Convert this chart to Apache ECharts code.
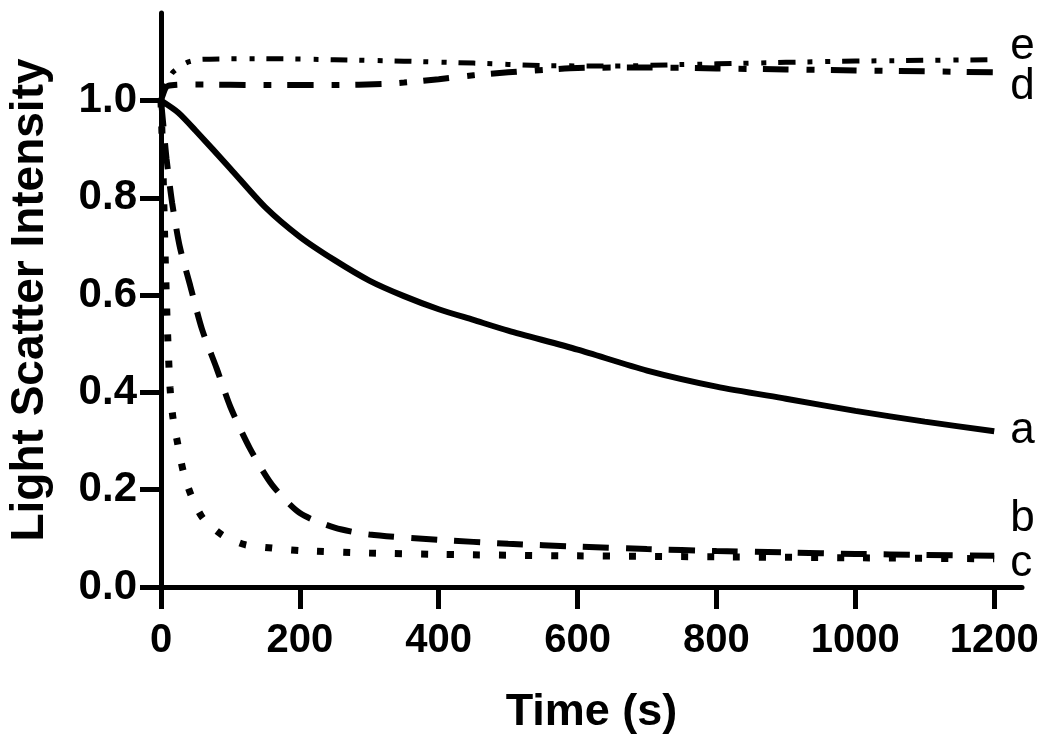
<!DOCTYPE html>
<html>
<head>
<meta charset="utf-8">
<script src="https://cdn.jsdelivr.net/npm/echarts@6/dist/echarts.min.js"></script>
<style>
  html, body { margin: 0; padding: 0; background: #fff; }
  #chart { width: 1050px; height: 750px; }
</style>
</head>
<body>
<div id="chart"></div>
<script>
// (time in s, light scatter intensity)
const timeA = [0, 25, 50, 100, 150, 200, 250, 300, 350, 400, 450, 500, 600, 700, 800, 900, 1000, 1100, 1200];
const valA  = [1.0, 0.975, 0.938, 0.86, 0.781, 0.72, 0.672, 0.63, 0.598, 0.571, 0.549, 0.527, 0.488, 0.445, 0.412, 0.387, 0.362, 0.34, 0.32];

const timeB = [0, 4, 8, 16, 27, 42, 59, 80, 100, 128, 160, 200, 250, 300, 400, 500, 600, 700, 800, 900, 1000, 1100, 1200];
const valB  = [1.0, 0.94, 0.88, 0.79, 0.70, 0.62, 0.53, 0.45, 0.37, 0.285, 0.21, 0.152, 0.122, 0.108, 0.097, 0.089, 0.083, 0.078, 0.074, 0.071, 0.068, 0.066, 0.064];

const timeC = [0, 3, 6, 9, 13, 17, 24, 32, 43, 60, 88, 121, 160, 200, 300, 400, 600, 800, 1000, 1200];
const valC  = [1.0, 0.85, 0.68, 0.54, 0.41, 0.35, 0.295, 0.238, 0.19, 0.142, 0.107, 0.087, 0.08, 0.075, 0.07, 0.067, 0.064, 0.062, 0.06, 0.058];

const timeD = [0, 10, 50, 150, 250, 320, 350, 400, 450, 500, 550, 600, 700, 800, 900, 1000, 1100, 1200];
const valD  = [1.0, 1.03, 1.033, 1.032, 1.032, 1.034, 1.037, 1.044, 1.052, 1.058, 1.063, 1.067, 1.068, 1.066, 1.064, 1.062, 1.06, 1.058];

const timeE = [0, 8, 17, 37, 60, 150, 250, 350, 450, 550, 650, 750, 850, 950, 1050, 1200];
const valE  = [1.0, 1.035, 1.058, 1.078, 1.085, 1.086, 1.084, 1.081, 1.077, 1.072, 1.071, 1.074, 1.077, 1.08, 1.082, 1.084];

const xTicks = [0, 200, 400, 600, 800, 1000, 1200];
const yTicks = [0, 0.2, 0.4, 0.6, 0.8, 1.0];

const FONT = 'Liberation Sans, Arial, sans-serif';

function pairs(t, v) {
  return t.map((x, i) => [x, v[i]]);
}

function curve(name, t, v, dash, width, labelOffset) {
  return {
    name: name,
    type: 'line',
    data: pairs(t, v),
    showSymbol: false,
    symbol: 'none',
    smooth: 0.25,
    lineStyle: {
      color: '#000',
      width: width,
      type: dash,
      cap: 'butt'
    },
    endLabel: {
      show: true,
      formatter: name,
      color: '#000',
      fontFamily: FONT,
      fontSize: 44,
      distance: 16,
      offset: labelOffset
    }
  };
}

const myChart = echarts.init(document.getElementById('chart'));
myChart.setOption({
  animation: false,
  backgroundColor: '#fff',
  grid: {
    left: 161,
    right: 28,
    top: 13,
    bottom: 163,
    outerBoundsMode: 'none'
  },
  xAxis: {
    type: 'value',
    min: 0,
    max: 1240,
    name: 'Time (s)',
    nameLocation: 'middle',
    nameGap: 103,
    nameTextStyle: { fontFamily: FONT, fontSize: 45, fontWeight: 'bold', color: '#000' },
    axisLine: { show: true, lineStyle: { color: '#000', width: 5 } },
    axisTick: { show: true, length: 22, lineStyle: { color: '#000', width: 5 }, customValues: xTicks },
    axisLabel: {
      customValues: xTicks,
      margin: 34,
      formatter: (v) => String(v),
      fontFamily: FONT, fontSize: 40, fontWeight: 'bold', color: '#000'
    },
    splitLine: { show: false }
  },
  yAxis: {
    type: 'value',
    min: 0,
    max: 1.18,
    name: 'Light Scatter Intensity',
    nameLocation: 'middle',
    nameGap: 108,
    nameRotate: 90,
    nameTextStyle: { fontFamily: FONT, fontSize: 46, fontWeight: 'bold', color: '#000' },
    axisLine: { show: true, lineStyle: { color: '#000', width: 5 } },
    axisTick: { show: true, length: 21, lineStyle: { color: '#000', width: 5 }, customValues: yTicks },
    axisLabel: {
      customValues: yTicks,
      margin: 24,
      formatter: (v) => v.toFixed(1),
      fontFamily: FONT, fontSize: 42, fontWeight: 'bold', color: '#000'
    },
    splitLine: { show: false }
  },
  series: [
    curve('a', timeA, valA, 'solid', 6, [0, 0]),
    curve('b', timeB, valB, [26, 17], 6, [0, -37]),
    curve('c', timeC, valC, [7, 19], 7, [0, 5]),
    curve('d', timeD, valD, [26, 18, 8, 16], 6, [0, 15]),
    curve('e', timeE, valE, [17, 12, 5, 13, 5, 12], 5, [0, -13])
  ]
});
</script>
</body>
</html>
